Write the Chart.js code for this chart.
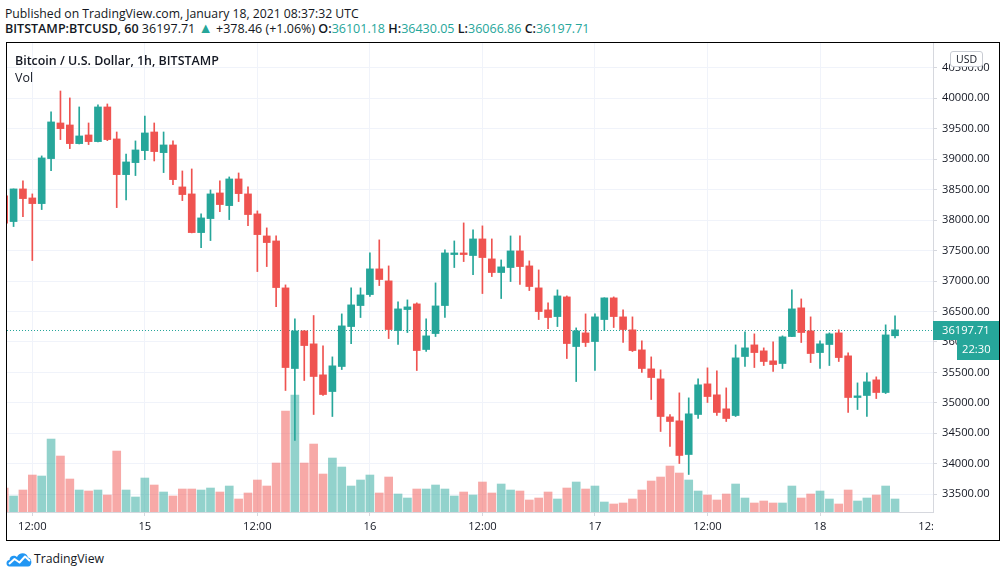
<!DOCTYPE html>
<html><head><meta charset="utf-8">
<script src="https://cdn.jsdelivr.net/npm/chart.js@4.4.1/dist/chart.umd.min.js"></script>
<style>
html,body{margin:0;padding:0;background:#fff;width:1006px;height:578px;overflow:hidden;font-family:"Open Sans","Liberation Sans",Arial,sans-serif;color:#131722;}
.t{position:absolute;white-space:nowrap;font-size:12px;line-height:16px;}
#h1{left:5px;top:6px;}
#h2{left:5px;top:21px;}
#h2 b{font-weight:600}
#h2 .g{color:#26a69a}
#h2 .tri{color:#26a69a;font-size:1.15em;line-height:10px;}
#box{position:absolute;left:6px;top:42px;width:992px;height:497px;border:1px solid #000;}
#box canvas{position:absolute;left:0;top:0;}
#title{left:15px;top:53px;font-weight:600;}
#vol{left:15px;top:69.5px;}
#usd{position:absolute;left:950px;top:51px;width:31px;height:14px;border:1px solid #c9ccd3;border-radius:3px;background:#fff;font-size:10.5px;line-height:14px;text-align:center;color:#131722;}
#foot{position:absolute;left:6px;top:551px;}
#foottxt{left:34px;top:551px;font-size:13px;line-height:16px;}
</style></head>
<body>
<div class="t" id="h1">Published on TradingView.com, January 18, 2021 08:37:32 UTC</div>
<div class="t" id="h2"><b>BITSTAMP:BTCUSD, 60</b> 36197.71 <span class="tri">&#9650;</span> +378.46 (+1.06%) <b>O:</b><span class="g">36101.18</span> <b>H:</b><span class="g">36430.05</span> <b>L:</b><span class="g">36066.86</span> <b>C:</b><span class="g">36197.71</span></div>
<div id="box"><canvas id="c" width="992" height="497"></canvas></div>
<div class="t" id="title">Bitcoin / U.S. Dollar, 1h, BITSTAMP</div>
<div class="t" id="vol">Vol</div>
<div id="usd">USD</div>
<svg id="foot" width="26" height="16" viewBox="0 0 26 16"><path d="M3.5 15.5 C-0.5 15.5 -0.5 9 3.5 9 C3.5 4.5 8.5 3.5 11 6 C12.5 1 21 0.5 22 6.5 C26.5 7 26.5 15.5 22 15.5 Z" fill="#2196f3"/><polyline points="3,13 8.5,8 13.5,11.5 19,5.5 24,10" stroke="#fff" stroke-width="2" fill="none" stroke-linejoin="round"/></svg>
<div class="t" id="foottxt">TradingView</div>
<script>
// ---- data (hourly candles, BITSTAMP BTCUSD) ----
const times = [
"01-14 09:00","01-14 10:00","01-14 11:00","01-14 12:00","01-14 13:00","01-14 14:00","01-14 15:00","01-14 16:00","01-14 17:00","01-14 18:00","01-14 19:00","01-14 20:00","01-14 21:00","01-14 22:00","01-14 23:00",
"01-15 00:00","01-15 01:00","01-15 02:00","01-15 03:00","01-15 04:00","01-15 05:00","01-15 06:00","01-15 07:00","01-15 08:00","01-15 09:00","01-15 10:00","01-15 11:00","01-15 12:00","01-15 13:00","01-15 14:00","01-15 15:00","01-15 16:00","01-15 17:00","01-15 18:00","01-15 19:00","01-15 20:00","01-15 21:00","01-15 22:00","01-15 23:00",
"01-16 00:00","01-16 01:00","01-16 02:00","01-16 03:00","01-16 04:00","01-16 05:00","01-16 06:00","01-16 07:00","01-16 08:00","01-16 09:00","01-16 10:00","01-16 11:00","01-16 12:00","01-16 13:00","01-16 14:00","01-16 15:00","01-16 16:00","01-16 17:00","01-16 18:00","01-16 19:00","01-16 20:00","01-16 21:00","01-16 22:00","01-16 23:00",
"01-17 00:00","01-17 01:00","01-17 02:00","01-17 03:00","01-17 04:00","01-17 05:00","01-17 06:00","01-17 07:00","01-17 08:00","01-17 09:00","01-17 10:00","01-17 11:00","01-17 12:00","01-17 13:00","01-17 14:00","01-17 15:00","01-17 16:00","01-17 17:00","01-17 18:00","01-17 19:00","01-17 20:00","01-17 21:00","01-17 22:00","01-17 23:00",
"01-18 00:00","01-18 01:00","01-18 02:00","01-18 03:00","01-18 04:00","01-18 05:00","01-18 06:00","01-18 07:00","01-18 08:00"];
const open = [38397,37976,38512,38364,38271,39010,39595,39562,39256,39398,39289,39858,39333,38747,38944,39141,39447,39108,39234,38545,38430,37795,38025,38446,38238,38676,38430,38102,37740,37658,36887,35563,36181,35968,35459,35185,35596,36252,36597,36777,37199,37002,36186,36531,36624,35875,36137,36597,37434,37461,37418,37691,37363,37139,37221,37494,37248,36887,36526,36416,36739,35924,36148,36006,36367,36723,36411,36198,35869,35557,35393,34769,34704,34151,34808,35311,35131,34901,34791,35760,35951,35853,35689,35645,36088,36559,36181,35825,35957,36148,35771,35087,35120,35377,35169,36101.18];
const high = [38420,38512,38643,38430,39054,39776,40120,40006,39858,39595,39891,39907,39447,39086,39300,39710,39595,39447,39300,38807,38840,38102,38495,38643,38709,38774,38545,38151,37872,37740,36936,36378,36185,36433,35935,35754,36460,36887,36887,37461,37675,37248,36657,36690,36641,36378,36969,37510,37658,37954,37839,37905,37691,37346,37740,37740,37330,37182,36641,36854,36755,36230,36460,36460,36725,36739,36526,36411,36017,35754,35541,34808,35163,35081,35393,35574,35525,35245,35951,36165,36132,35902,36001,36099,36854,36706,36411,36017,36148,36198,35820,35327,35492,35426,36280,36430.05];
const low = [37930,37894,38058,37336,38173,38813,39322,39174,39250,39240,39285,39305,38205,38331,38731,38993,38971,38780,38583,38320,37790,37549,37664,38140,38008,38304,37910,37155,37237,36580,35202,34381,35366,34808,35120,34775,35546,35973,36400,36745,36925,36055,35957,36154,35530,35842,36088,36400,37221,37319,37106,36794,37073,36712,36991,36942,36843,36367,36219,36252,35727,35349,35924,35530,36186,36236,35990,35842,35497,35054,34529,34282,34003,33823,34742,35005,34791,34693,34775,35596,35579,35612,35514,35563,36085,35990,35661,35563,35612,35678,34841,34890,34775,35070,35152,36066.86];
const close = [37948,38512,38353,38271,39021,39612,39502,39256,39382,39289,39858,39322,38747,38955,39152,39431,39125,39234,38665,38419,37795,38036,38430,38255,38676,38435,38091,37762,37631,36892,35579,36181,35940,35432,35136,35607,36263,36608,36772,37199,37024,36203,36542,36575,35858,36099,36591,37461,37461,37434,37691,37385,37139,37232,37494,37237,36909,36498,36400,36755,35973,36181,35990,36411,36723,36416,36203,35858,35563,35415,34775,34693,34135,34819,35295,35103,34841,34742,35738,35902,35825,35678,35628,36083,36542,36154,35809,35968,36132,35743,35087,35114,35344,35169,36115,36197.71];
const volume = [504,336,462,777,756,1533,1176,693,462,441,462,357,1281,462,315,714,567,420,336,483,483,462,504,420,546,273,399,672,546,1029,2121,2457,1029,1428,798,1134,945,546,672,777,399,735,378,294,483,483,567,483,336,420,357,630,399,588,462,441,252,294,420,273,504,630,483,546,210,168,189,273,462,651,735,966,819,672,441,357,252,378,588,294,189,231,189,189,546,294,378,441,273,168,462,231,294,357,546,273];
const priceTicks = [33500,34000,34500,35000,35500,36000,36500,37000,37500,38000,38500,39000,39500,40000,40500];
const xTickHours = [0,12,24,36,48,60,72,84,96];
const xTickLabels = ["12:00","15","12:00","16","12:00","17","12:00","18","12:00"];
const countdown = "22:30";

// ---- fit header text widths to the reference layout ----
function fitWidth(id, w){
  const el = document.getElementById(id);
  const cur = el.getBoundingClientRect().width;
  const fs = parseFloat(getComputedStyle(el).fontSize);
  el.style.fontSize = (fs * w / cur).toFixed(2) + 'px';
}
fitWidth('h1', 354); fitWidth('h2', 585); fitWidth('title', 204); fitWidth('foottxt', 70);
document.getElementById('vol').style.fontSize = document.getElementById('title').style.fontSize;

// ---- build ----
const UP = '#26a69a', DOWN = '#ef5350';
const UPV = 'rgba(38,166,154,0.5)', DOWNV = 'rgba(239,83,80,0.5)';
const hourOf = t => { const d = +t.slice(3,5), h = +t.slice(6,8); return (d - 14) * 24 + h - 12; };
const xs = times.map(hourOf);
const isUp = close.map((c,i) => c >= open[i]);
const bodies = xs.map((x,i) => ({x, y:[Math.min(open[i],close[i]), Math.max(open[i],close[i])]}));
const wicks = xs.map((x,i) => ({x, y:[low[i], high[i]]}));
const vols = xs.map((x,i) => ({x, y:volume[i]}));
const candleCol = isUp.map(u => u ? UP : DOWN);
const volCol = isUp.map(u => u ? UPV : DOWNV);
const lastPrice = close[close.length-1];
const FONT = '"Open Sans", "Liberation Sans", Arial, sans-serif';
const AX = 11.2;

const overlay = {
  id:'overlay',
  beforeDatasetsDraw(chart){
    const {ctx, chartArea:a, scales:{y}} = chart;
    const py = Math.round(y.getPixelForValue(lastPrice)) + 0.5;
    ctx.save();
    ctx.strokeStyle = UP; ctx.lineWidth = 1; ctx.setLineDash([1,2]);
    ctx.beginPath(); ctx.moveTo(a.left, py); ctx.lineTo(a.right, py); ctx.stroke();
    ctx.restore();
  },
  afterDraw(chart){
    const {ctx, chartArea:a, scales:{x, y}} = chart;
    ctx.save();
    ctx.beginPath(); ctx.rect(0, a.bottom, a.right, chart.height - a.bottom); ctx.clip();
    ctx.font = AX + 'px ' + FONT; ctx.fillStyle = '#131722'; ctx.textAlign = 'center'; ctx.textBaseline = 'middle';
    xTickHours.forEach((h,i) => { if (h > x.max - 1 || h < x.min) ctx.fillText(xTickLabels[i], x.getPixelForValue(h), a.bottom + 15); });
    ctx.restore();
    const py = Math.round(y.getPixelForValue(lastPrice));
    ctx.save();
    ctx.fillStyle = UP;
    ctx.fillRect(a.right, py - 9, chart.width - a.right, 19);
    ctx.fillRect(a.right + 24, py + 10, chart.width - a.right - 24, 20);
    ctx.fillStyle = '#fff'; ctx.font = AX + 'px ' + FONT; ctx.textAlign = 'left'; ctx.textBaseline = 'middle';
    ctx.fillText(lastPrice.toFixed(2), a.right + 9, py + 1);
    ctx.fillText(countdown, a.right + 29, py + 20);
    ctx.restore();
  }
};

new Chart(document.getElementById('c'), {
  type:'bar',
  data:{datasets:[
    {data:bodies, backgroundColor:candleCol, barThickness:7, grouped:false, minBarLength:1, yAxisID:'y'},
    {data:wicks, backgroundColor:candleCol, barThickness:1, grouped:false, minBarLength:1, yAxisID:'y'},
    {data:vols, backgroundColor:volCol, barThickness:8, grouped:false, yAxisID:'yv'}
  ]},
  options:{
    responsive:false, animation:false,
    layout:{padding:0},
    plugins:{legend:{display:false}, tooltip:{enabled:false}},
    scales:{
      x:{type:'linear', min:-2.70, max:96.05, offset:false,
         grid:{offset:false, color:'#f0f3fa', tickColor:'#d6d8de', tickLength:4, lineWidth:1},
         border:{display:true, color:'#d6d8de'},
         ticks:{autoSkip:false, maxRotation:0, padding:4, color:'#131722', font:{family:FONT, size:AX},
                callback:(v) => { const k = xTickHours.indexOf(v); return k >= 0 ? xTickLabels[k] : ''; }},
         afterBuildTicks:(s) => { s.ticks = xTickHours.filter(h => h >= s.min && h <= s.max - 1).map(v => ({value:v})); },
         afterFit:(s) => { s.height = 28; s.paddingLeft = 0; s.paddingRight = 0; }
      },
      y:{type:'linear', position:'right', min:33207, max:40908,
         grid:{color:'#f0f3fa', tickColor:'#d6d8de', tickLength:4},
         border:{display:true, color:'#d6d8de'},
         ticks:{padding:5, color:'#131722', font:{family:FONT, size:AX}, callback:(v) => v.toFixed(2)},
         afterBuildTicks:(s) => { s.ticks = priceTicks.map(v => ({value:v})); },
         afterFit:(s) => { s.width = 66; s.paddingTop = 0; s.paddingBottom = 0; }
      },
      yv:{type:'linear', display:false, min:0, max:9855}
    }
  },
  plugins:[overlay]
});
</script>
</body></html>
